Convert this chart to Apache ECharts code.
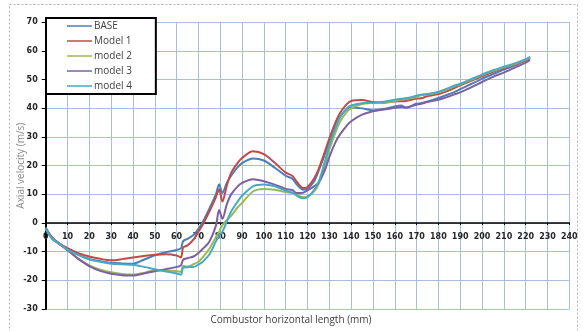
<!DOCTYPE html>
<html>
<head>
<meta charset="utf-8">
<script src="https://cdn.jsdelivr.net/npm/echarts@6/dist/echarts.min.js"></script>
<style>
  html, body { margin: 0; padding: 0; background: #fff; }
  #chart { width: 584px; height: 331px; }
</style>
</head>
<body>
<div id="chart"></div>
<script>
// x positions (mm), shared by every series
var xs = [0, 3, 6, 10, 15, 20, 25, 30, 35, 40, 45, 50, 55, 60, 62, 63, 65, 68, 70, 72, 75, 78, 79.5, 81, 83, 85, 88, 90, 95, 100,
  105, 110, 113, 115, 118, 120, 123, 125, 128, 130, 133, 135, 138, 140, 145, 150, 155, 160, 163, 165, 170, 172, 175, 180,
  185, 187, 190, 195, 200, 205, 210, 215, 220, 222];

var base = [-1.5, -5.2, -7, -9, -11, -12.5, -13.3, -13.9, -14.1, -14.2, -12.8, -11.3, -10.2, -9.4, -8.8, -6.3, -5.5, -4, -2, 0.3,
  5, 10, 13.5, 10.5, 14, 16.5, 19.5, 20.9, 22.5, 21.8, 19.3, 16.5, 15.5, 13.5, 11.6, 12, 14.5, 18, 24, 28.5, 34.5, 37.2,
  39.8, 40.3, 40, 39.3, 39.8, 40.7, 41, 40.3, 41.6, 41.8, 42.4, 43.6, 45, 45.6, 46.7, 48.5, 50.3, 52, 53.5, 55, 56.8, 57.6];

var model1 = [-2, -5, -7, -8.8, -10.5, -11.7, -12.5, -13, -12.6, -12, -11.5, -11.1, -10.9, -11.3, -12, -8.5, -7.8, -5.5, -3, -0.5,
  4, 9, 11.8, 7.5, 13, 17.5, 21, 22.7, 25, 24, 21, 17.6, 16.5, 14.5, 12.2, 12.6, 15.5, 18.6, 25, 29.5, 35.5, 38.5,
  41.5, 42.6, 42.9, 42.2, 42, 42.4, 42.5, 42.6, 43.4, 43.5, 44.2, 45, 46.3, 47, 48, 49.6, 51.2, 52.8, 54, 55.3, 56.8, 57.5];

var model2 = [-2, -5.5, -7.2, -9.5, -12.5, -14.8, -16.3, -17.2, -17.8, -18, -17.4, -16.5, -16.6, -16.8, -17, -15, -15.2, -14.3, -13.5, -12,
  -9, -5, -3, -0.8, 1, 2.5, 5.5, 7, 11, 11.9, 11.6, 10.8, 10.5, 9.9, 9, 9.3, 11, 13.4, 20, 25.6, 32, 35.5,
  38.8, 40.1, 41.5, 41.9, 42.1, 42.5, 43.2, 43.3, 44, 44.6, 44.8, 45.6, 47, 47.6, 48.4, 50, 51.6, 53.1, 54.3, 55.5, 57, 57.8];

var model3 = [-2, -5.5, -7.2, -9.5, -12.5, -15, -16.7, -17.7, -18.2, -18.3, -17.6, -16.8, -16.1, -15.3, -14.8, -12.8, -12.3, -11.6, -10.5, -9,
  -6.5, -1, 4.5, 1.5, 6.5, 10, 12.8, 14, 15.3, 14.6, 13.4, 11.9, 11.5, 10.5, 10.6, 11.4, 12.8, 14, 18.5, 23, 28.5, 31,
  34, 35.5, 37.8, 39, 39.6, 40.2, 40.5, 40.2, 41.3, 41.6, 42.2, 43, 44.2, 44.8, 45.6, 47.3, 49.2, 51, 52.5, 54.2, 56, 56.8];

var model4 = [-2, -5.5, -7.1, -9.3, -11.2, -12.7, -13.5, -14.2, -14.4, -14.6, -15.3, -16.1, -16.9, -17.6, -18, -15.6, -15.4, -15.3, -14.5, -13.5,
  -11, -6.5, -4.5, -3, 0.5, 4, 7.5, 9.5, 12.8, 13.4, 12.8, 11.3, 10.6, 9.6, 8.6, 9, 11.5, 14, 21.5, 27, 33.5, 37,
  40, 41, 41.8, 42, 42.3, 43, 43.4, 43.5, 44.4, 44.8, 45, 45.8, 47.2, 47.8, 48.6, 50.2, 51.8, 53.3, 54.5, 55.7, 57.2, 58];

var seriesNames = ["BASE", "Model 1", "model 2", "model 3", "model 4"];
var seriesValues = [base, model1, model2, model3, model4];
var seriesColors = ["#4a7ebb", "#be4b48", "#98b954", "#7d60a0", "#46aac5"];

var chart = echarts.init(document.getElementById("chart"));

function pairs(ys) {
  return xs.map(function (x, i) { return [x, ys[i]]; });
}

var gridColor = "#a8bde0";
var tickFont = { color: "#262626", fontSize: 8, fontWeight: "bold", fontFamily: "DejaVu Sans" };

chart.setOption({
  animation: false,
  backgroundColor: "#fff",
  grid: { left: 45.7, right: 14.7, top: 22.4, bottom: 22 },
  legend: {
    orient: "vertical",
    left: 46,
    top: 18,
    padding: [3, 24, 3, 21],
    itemGap: 5,
    itemWidth: 25,
    itemHeight: 1.5,
    icon: "rect",
    backgroundColor: "#fff",
    borderColor: "#000",
    borderWidth: 2,
    borderRadius: 0,
    textStyle: { color: "#404040", fontSize: 10, fontFamily: "Open Sans", padding: [0, 0, 0, -3], lineHeight: 10 },
    data: seriesNames
  },
  xAxis: {
    type: "value",
    min: 0,
    max: 240,
    interval: 10,
    axisLine: { onZero: true, lineStyle: { color: "#000", width: 1.5 } },
    axisTick: { show: true, length: 2, lineStyle: { color: "#000" } },
    // labels sit just under the zero line, as in the original
    axisLabel: Object.assign({ margin: -76 }, tickFont),
    splitLine: { show: true, lineStyle: { color: gridColor, width: 1 } }
  },
  yAxis: {
    type: "value",
    min: -30,
    max: 70,
    interval: 10,
    name: "Axial velocity (m/s)",
    nameLocation: "middle",
    nameGap: 20,
    nameMoveOverlap: false,
    nameTextStyle: { color: "#8a8a8a", fontSize: 10, fontFamily: "Open Sans" },
    axisLine: { show: true, lineStyle: { color: "#000", width: 2 } },
    axisTick: { show: true, length: 4, lineStyle: { color: "#000" } },
    axisLabel: Object.assign({ margin: 8 }, tickFont),
    splitLine: { show: true, lineStyle: { color: gridColor, width: 1 } }
  },
  graphic: [
    {
      type: "rect",
      silent: true,
      z: -10,
      shape: { x: 9.5, y: 4.5, width: 568, height: 340 },
      style: { fill: "none", stroke: "#b8b8b8", lineWidth: 1, lineDash: [2, 2] }
    },
    {
      type: "text",
      x: 291,
      y: 320,
      style: {
        text: "Combustor horizontal length (mm)",
        fill: "#404040",
        fontSize: 10,
        fontFamily: "Open Sans",
        align: "center",
        verticalAlign: "middle"
      }
    }
  ],
  series: seriesNames.map(function (name, i) {
    return {
      name: name,
      type: "line",
      data: pairs(seriesValues[i]),
      showSymbol: false,
      smooth: 0.3,
      itemStyle: { color: seriesColors[i] },
      lineStyle: { color: seriesColors[i], width: 2 }
    };
  })
});
</script>
</body>
</html>
